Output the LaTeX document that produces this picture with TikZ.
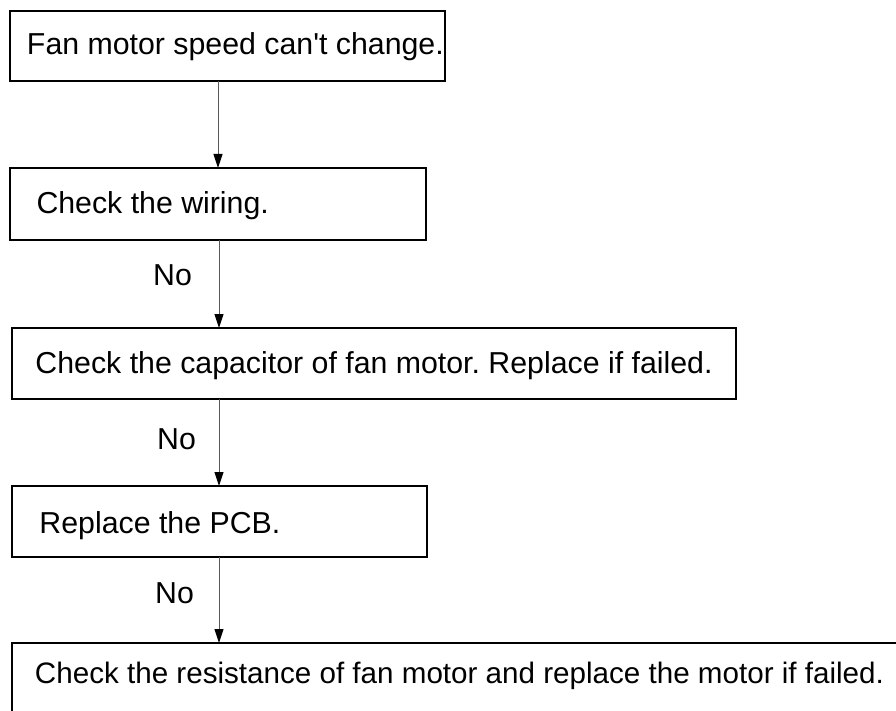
\documentclass[tikz,border=0pt]{standalone}
\usepackage{fontspec}
\setmainfont{Liberation Sans}
\usetikzlibrary{arrows.meta}
\frenchspacing
% one line of box text: fixed-width box, text indented from the left edge
\newcommand\stepline[3]{\makebox[#1][l]{\hspace*{#2}#3}}
\begin{document}
\begin{tikzpicture}[x=1pt,y=-1pt,
  font=\fontsize{30.3}{36}\selectfont,
  stepbox/.style={draw=black, line width=1.3pt, rectangle, anchor=north west,
    inner sep=0pt, outer sep=0pt},
  flow/.style={draw=black!65, line width=1pt,
    -{Triangle[length=14pt,width=9pt,color=black]}},
  answer/.style={anchor=base west, inner sep=0pt}]
\useasboundingbox (0,0) rectangle (896,711);
\clip (0,0) rectangle (896,711);

% boxes
\node[stepbox, text height=44pt, text depth=26pt] (b1) at (10,11)
  {\stepline{435pt}{17pt}{Fan motor speed can\textquotesingle t change.}};
\node[stepbox, text height=46pt, text depth=26pt] (b2) at (10,168)
  {\stepline{416pt}{26.5pt}{Check the wiring.}};
\node[stepbox, text height=45pt, text depth=26pt] (b3) at (12,328)
  {\stepline{724pt}{23.5pt}{Check the capacitor of fan motor. Replace if failed.}};
\node[stepbox, text height=47pt, text depth=24pt] (b4) at (12,486)
  {\stepline{415pt}{27.5pt}{Replace the PCB.}};
\node[stepbox, text height=40pt, text depth=80pt,
      font=\fontsize{29.6}{36}\selectfont] (b5) at (12,643)
  {\stepline{920pt}{23pt}{Check the resistance of fan motor and replace the motor if failed.}};

% answers
\node[answer] (no1) at (153,285) {No};
\node[answer] (no2) at (157,449) {No};
\node[answer] (no3) at (155,603) {No};

% connectors
\coordinate (ax1) at (218,0);
\coordinate (ax) at (219,0);
\draw[flow] (b1.south -| ax1) -- (b2.north -| ax1);
\draw[flow] (b2.south -| ax) -- (b3.north -| ax);
\draw[flow] (b3.south -| ax) -- (b4.north -| ax);
\draw[flow] (b4.south -| ax) -- (b5.north -| ax);
\end{tikzpicture}
\end{document}
